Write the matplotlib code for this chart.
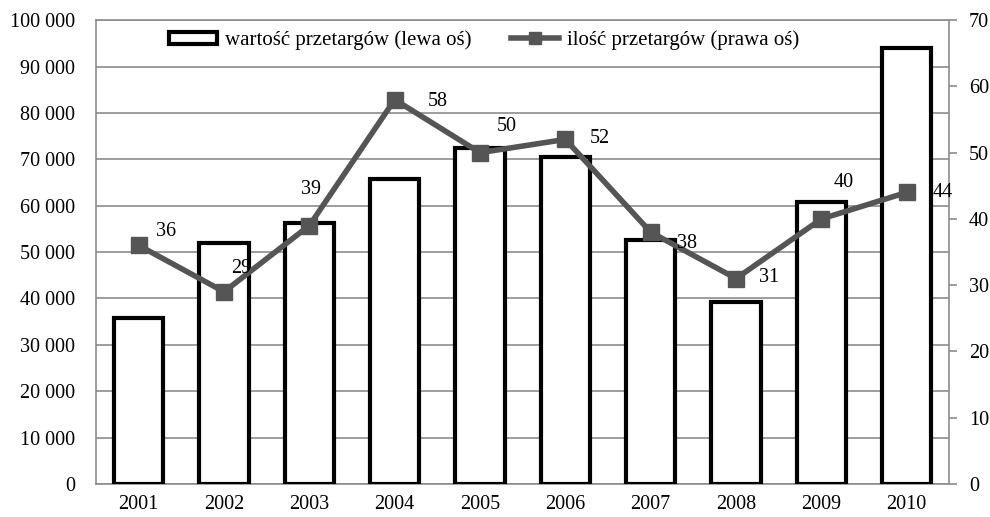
import matplotlib.pyplot as plt
from matplotlib.ticker import FuncFormatter
from matplotlib.lines import Line2D
from matplotlib.patches import Patch

plt.rcParams['font.family'] = ['Liberation Serif', 'DejaVu Serif']

years = ['2001', '2002', '2003', '2004', '2005', '2006', '2007', '2008', '2009', '2010']
wartosc = [35800, 51900, 56300, 65700, 72400, 70600, 52600, 39200, 60800, 94000]
ilosc = [36, 29, 39, 58, 50, 52, 38, 31, 40, 44]
# label offsets (points) for the data labels
lab_dx = [20, 12, 1, 31, 19, 25, 26, 24, 16, 26]
lab_dy = [10, 17, 26, -1, 19, 1, -8, 1, 26, 0]

grey = '#8c8c8c'
line_col = '#555555'

fig = plt.figure(figsize=(9.9, 5.17), dpi=100)
ax = fig.add_axes([0.097, 0.064, 0.862, 0.897])
x = list(range(len(years)))

ax.bar(x, wartosc, width=0.58, color='white', edgecolor='black', linewidth=3, zorder=3)
ax.set_ylim(0, 100000)
ax.set_xlim(-0.5, len(years) - 0.5)
ax.set_yticks(range(0, 100001, 10000))
ax.yaxis.set_major_formatter(FuncFormatter(lambda v, p: f'{int(v):,}'.replace(',', ' ')))
ax.set_xticks(x)
ax.set_xticklabels(years)
ax.grid(axis='y', color=grey, linewidth=1.2, zorder=0)
ax.set_axisbelow(True)
ax.tick_params(axis='both', length=0, labelsize=14.5)
ax.tick_params(axis='y', pad=15)
ax.tick_params(axis='x', pad=8)
for s in ['left', 'bottom', 'top']:
    ax.spines[s].set_color(grey)
    ax.spines[s].set_linewidth(1.2)
ax.spines['right'].set_visible(False)

ax2 = ax.twinx()
ax2.plot(x, ilosc, color=line_col, linewidth=4, marker='s', markersize=12, zorder=4)
ax2.set_ylim(0, 70)
ax2.set_yticks(range(0, 71, 10))
ax2.tick_params(axis='y', length=6, width=1.2, color=grey, labelsize=14.5, pad=8)
for s in ['left', 'bottom', 'top']:
    ax2.spines[s].set_visible(False)
ax2.spines['right'].set_color(grey)
ax2.spines['right'].set_linewidth(1.2)

for xi, v, dx, dy in zip(x, ilosc, lab_dx, lab_dy):
    ax2.annotate(str(v), (xi, v), xytext=(dx, dy), textcoords='offset points',
                 ha='center', va='center', fontsize=14.5, zorder=5)

handles = [Patch(facecolor='white', edgecolor='black', linewidth=3),
           Line2D([0], [0], color=line_col, linewidth=4, marker='s', markersize=9)]
ax2.legend(handles, ['wartość przetargów (lewa oś)', 'ilość przetargów (prawa oś)'],
           loc='upper center', bbox_to_anchor=(0.455, 1.0), ncol=2, frameon=False,
           fontsize=15, handlelength=2.3, handleheight=0.55, handletextpad=0.4,
           columnspacing=1.9, borderaxespad=0.1)

fig.savefig('out.png', dpi=100)
